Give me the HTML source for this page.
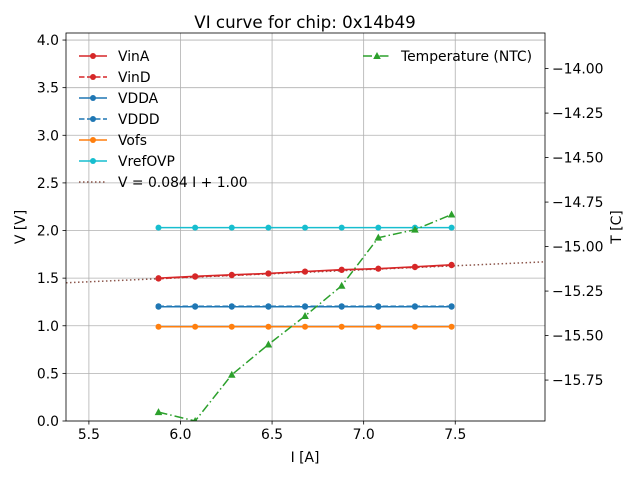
<!DOCTYPE html>
<html><head><meta charset="utf-8"><style>
body{margin:0;background:#fff}
svg{display:block;font-family:"DejaVu Sans","Liberation Sans",sans-serif}
</style></head><body>
<svg id="c" width="640" height="480" viewBox="0 0 640 480"></svg>
<script>
const currents=[5.88,6.08,6.28,6.48,6.68,6.88,7.08,7.28,7.48];
const vinA=[1.50,1.52,1.535,1.55,1.57,1.59,1.60,1.62,1.64];
const vinD=[1.495,1.515,1.53,1.548,1.567,1.585,1.598,1.615,1.635];
const vdda=[1.20,1.20,1.20,1.20,1.20,1.20,1.20,1.20,1.20];
const vddd=[1.205,1.205,1.205,1.205,1.205,1.205,1.205,1.205,1.205];
const vofs=[0.99,0.99,0.99,0.99,0.99,0.99,0.99,0.99,0.99];
const vrefOVP=[2.03,2.03,2.03,2.03,2.03,2.03,2.03,2.03,2.03];
const temperature=[-15.93,-15.98,-15.72,-15.55,-15.39,-15.22,-14.95,-14.905,-14.82];
const fitSlope=0.084, fitIntercept=1.00;
const xTicks=[5.5,6.0,6.5,7.0,7.5];
const yTicks=[0,0.5,1,1.5,2,2.5,3,3.5,4];
const tTicks=[-14.00,-14.25,-14.50,-14.75,-15.00,-15.25,-15.50,-15.75];

const L=66,R=545,T=33,B=421;
const xMin=5.375,xMax=7.99,yMin=0,yMax=4.074,tMin=-15.98,tMax=-13.80;
const FS=13.9;
const sx=v=>L+(v-xMin)/(xMax-xMin)*(R-L);
const sy=v=>B-(v-yMin)/(yMax-yMin)*(B-T);
const st=v=>B-(v-tMin)/(tMax-tMin)*(B-T);
const svg=document.getElementById('c');
const NS='http://www.w3.org/2000/svg';
function mk(tag,attrs,parent){const e=document.createElementNS(NS,tag);for(const k in attrs)e.setAttribute(k,attrs[k]);(parent||svg).appendChild(e);return e;}
function txt(s,x,y,anchor,size,name,parent){const e=mk('text',{x:x,y:y,'text-anchor':anchor,'font-size':size,fill:'#000'},parent);e.textContent=s;


return e;}

const clip=mk('clipPath',{id:'pc'});mk('rect',{x:L,y:T,width:R-L,height:B-T},clip);
const grid=mk('g',{});


xTicks.forEach(v=>{mk('line',{x1:sx(v),x2:sx(v),y1:T,y2:B,stroke:'#b0b0b0','stroke-width':0.8},grid);
 mk('line',{x1:sx(v),x2:sx(v),y1:B,y2:B+3.5,stroke:'#000','stroke-width':0.8});
 txt(v.toFixed(1),sx(v),B+18,'middle',FS,'x-tick-label');});
yTicks.forEach(v=>{mk('line',{x1:L,x2:R,y1:sy(v),y2:sy(v),stroke:'#b0b0b0','stroke-width':0.8},grid);
 mk('line',{x1:L-3.5,x2:L,y1:sy(v),y2:sy(v),stroke:'#000','stroke-width':0.8});
 txt(v.toFixed(1),L-7,sy(v)+5,'end',FS,'y-tick-label');});
tTicks.forEach(v=>{mk('line',{x1:R,x2:R+3.5,y1:st(v),y2:st(v),stroke:'#000','stroke-width':0.8});
 txt('\u2212'+Math.abs(v).toFixed(2),R+7,st(v)+5,'start',FS,'t-tick-label');});

const plot=mk('g',{'clip-path':'url(#pc)'});
function series(xs,ys,scale,color,dash,marker,name){
 const g=mk('g',{},plot);
 
 
 const pts=xs.map((x,i)=>sx(x)+','+scale(ys[i])).join(' ');
 const a={points:pts,fill:'none',stroke:color,'stroke-width':1.5};if(dash)a['stroke-dasharray']=dash;
 mk('polyline',a,g);
 xs.forEach((x,i)=>{const cx=sx(x),cy=scale(ys[i]);
  if(marker==='o')mk('circle',{cx:cx,cy:cy,r:3,fill:color},g);
  else mk('polygon',{points:`${cx},${cy-4} ${cx-3.8},${cy+3} ${cx+3.8},${cy+3}`,fill:color},g);});
}
const fit=mk('line',{x1:sx(xMin),y1:sy(fitSlope*xMin+fitIntercept),x2:sx(xMax),y2:sy(fitSlope*xMax+fitIntercept),stroke:'#8c564b','stroke-width':1.5,'stroke-dasharray':'1.5,2.5'},plot);


series(currents,vrefOVP,sy,'#17becf',null,'o','series-vrefovp');
series(currents,vofs,sy,'#ff7f0e',null,'o','series-vofs');
series(currents,vddd,sy,'#1f77b4','5.5,2.5','o','series-vddd');
series(currents,vdda,sy,'#1f77b4',null,'o','series-vdda');
series(currents,vinD,sy,'#d62728','5.5,2.5','o','series-vind');
series(currents,vinA,sy,'#d62728',null,'o','series-vina');
series(currents,temperature,st,'#2ca02c','9,3,1.5,3','^','series-temperature');

const frame=mk('rect',{x:L,y:T,width:R-L,height:B-T,fill:'none',stroke:'#000','stroke-width':0.8});



txt('VI curve for chip: 0x14b49',305,28,'middle',16.7,'chart-title');
txt('I [A]',305,462,'middle',FS,'x-axis-title');
const yl=txt('V [V]',0,0,'middle',FS,'y-axis-title');yl.setAttribute('transform','translate(25,227) rotate(-90)');
const tl=txt('T [C]',0,0,'middle',FS,'t-axis-title');tl.setAttribute('transform','translate(621,227) rotate(-90)');

const leg=[['VinA','#d62728',null,'o'],['VinD','#d62728','5.5,2.5','o'],['VDDA','#1f77b4',null,'o'],['VDDD','#1f77b4','5.5,2.5','o'],['Vofs','#ff7f0e',null,'o'],['VrefOVP','#17becf',null,'o'],['V = 0.084 I + 1.00','#8c564b','1.5,2.5',null]];
leg.forEach((e,i)=>{const y=56+i*21;const g=mk('g',{});
 
 
 const a={x1:79,x2:107,y1:y,y2:y,stroke:e[1],'stroke-width':1.5};if(e[2])a['stroke-dasharray']=e[2];mk('line',a,g);
 if(e[3])mk('circle',{cx:93,cy:y,r:3,fill:e[1]},g);
 txt(e[0],118,y+5,'start',FS,'legend-label',g);});
const g2=mk('g',{});


mk('line',{x1:363,x2:391,y1:56,y2:56,stroke:'#2ca02c','stroke-width':1.5,'stroke-dasharray':'9,3,1.5,3'},g2);
mk('polygon',{points:'377,52 373.2,59 380.8,59',fill:'#2ca02c'},g2);
txt('Temperature (NTC)',401,61,'start',FS,'legend-label',g2);
</script>
</body></html>
